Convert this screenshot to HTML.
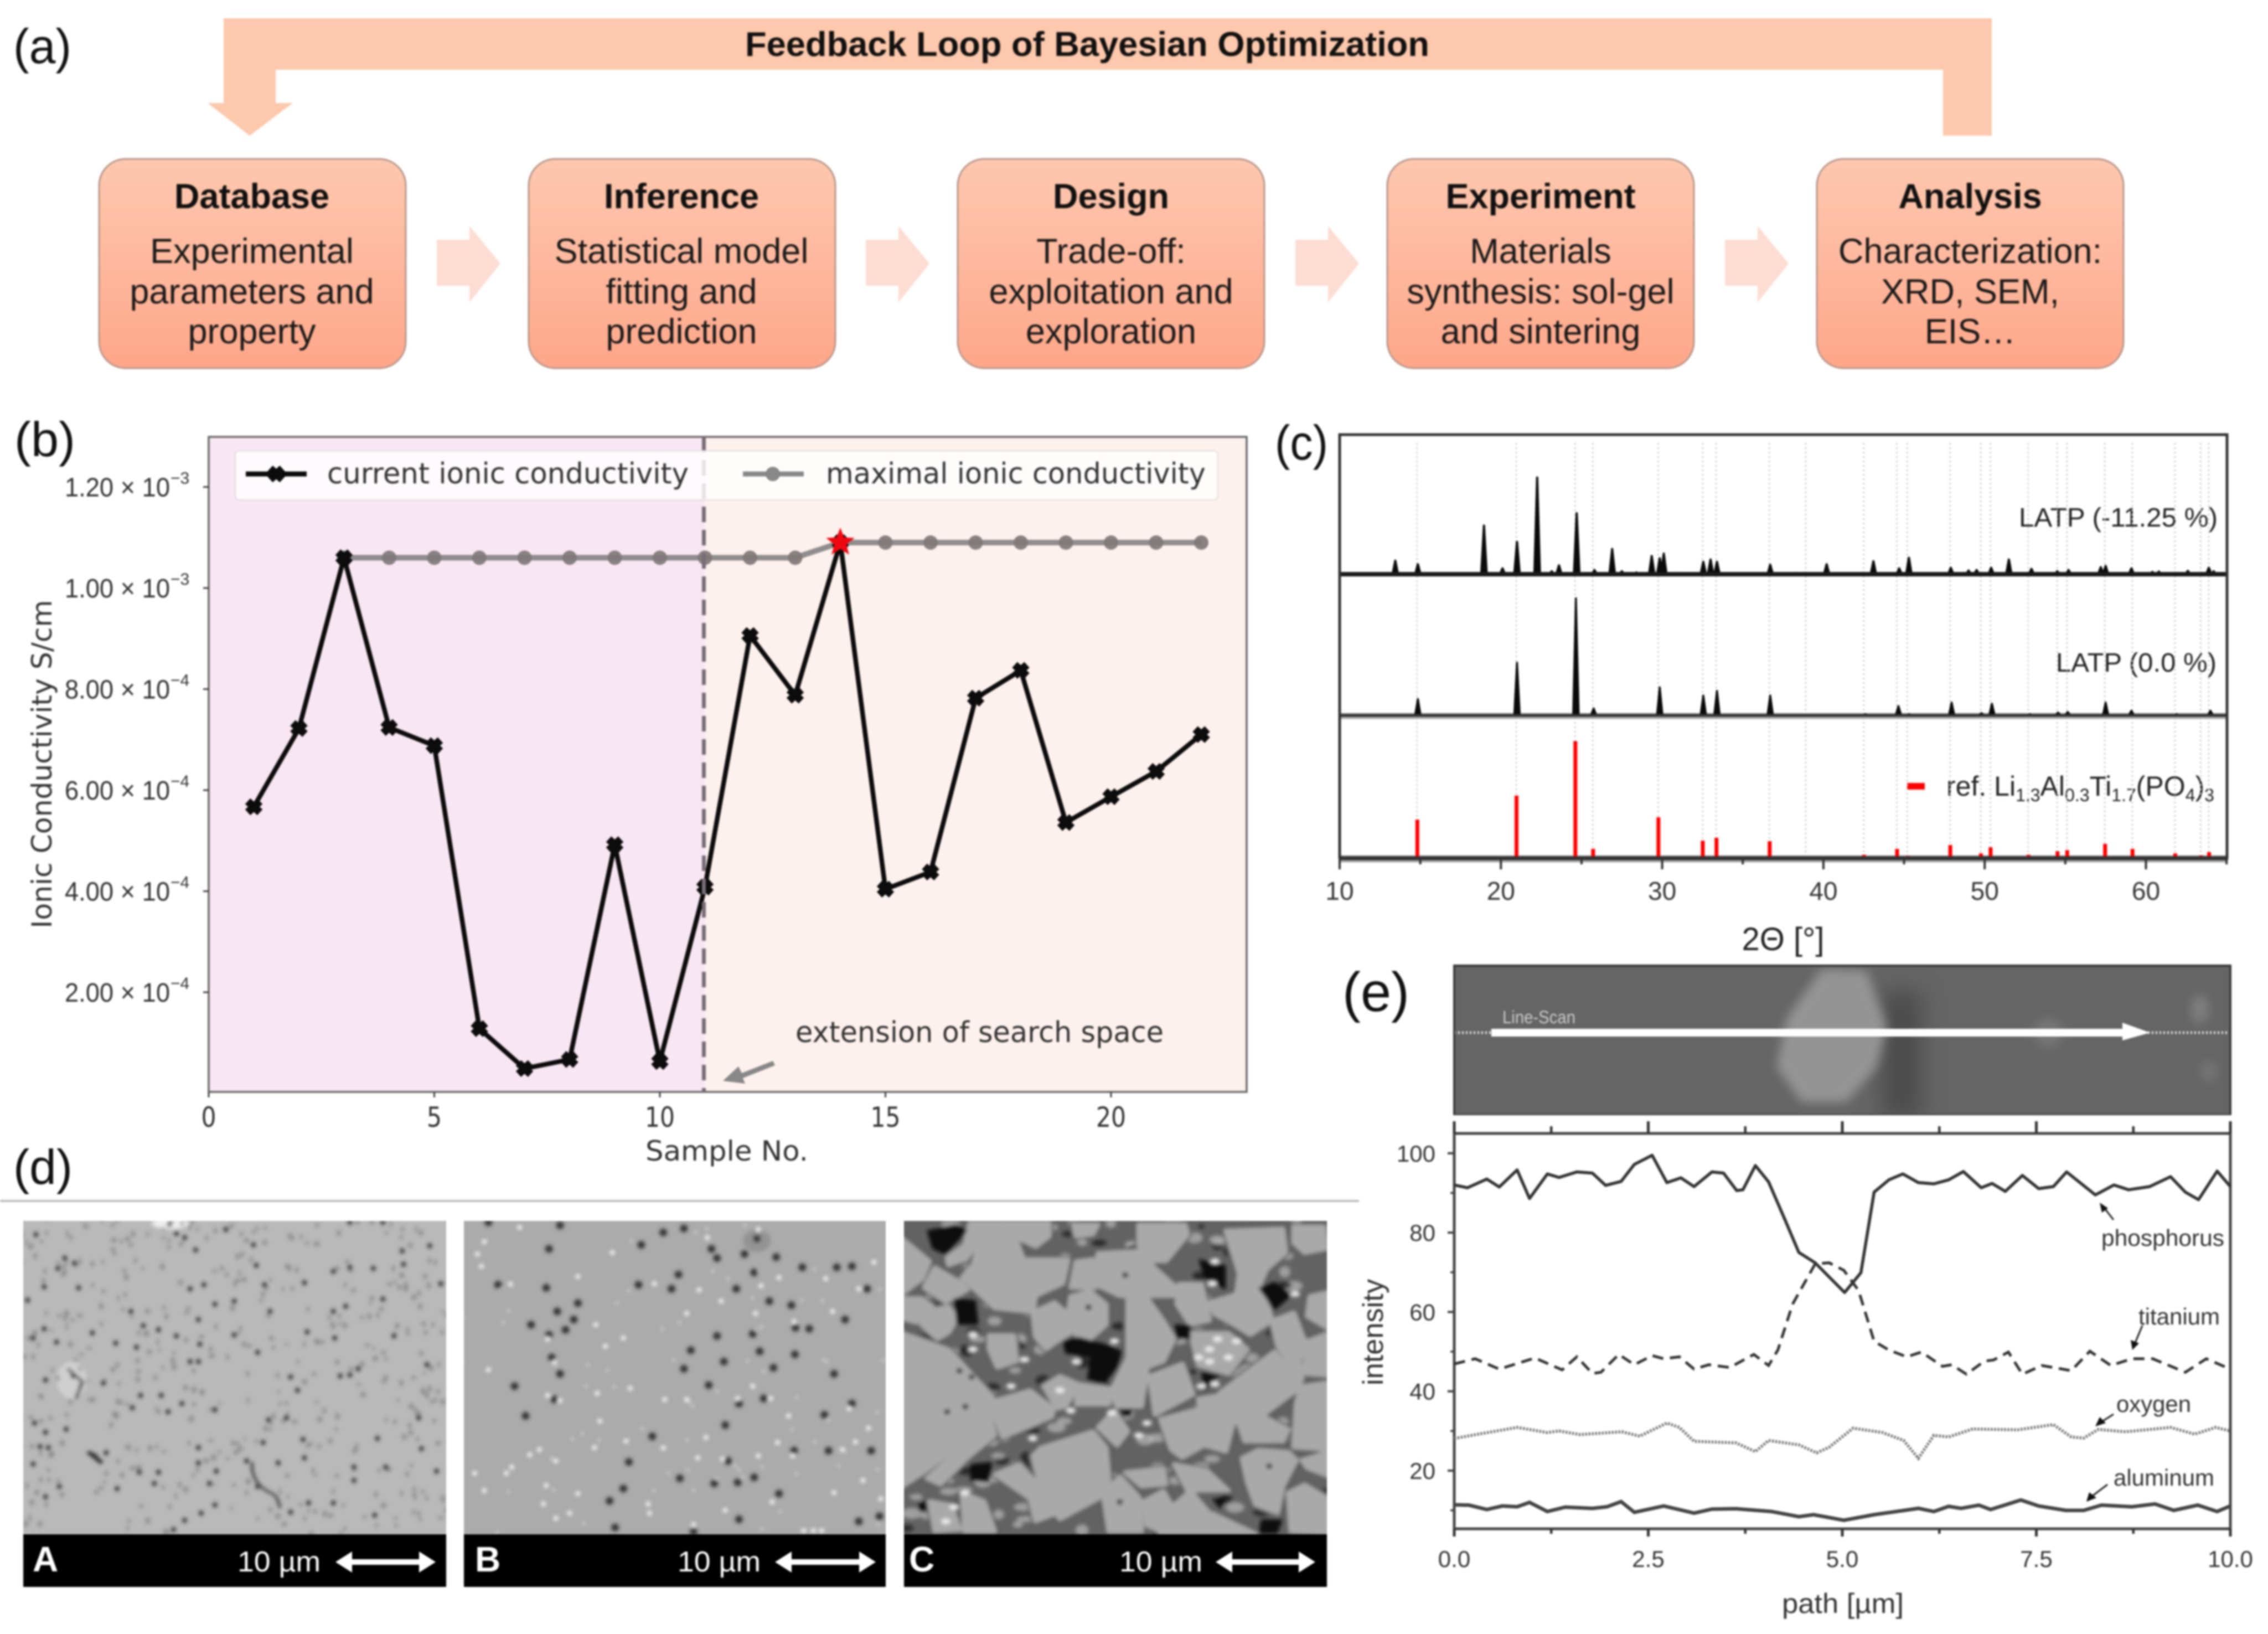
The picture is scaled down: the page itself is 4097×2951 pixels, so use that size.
<!DOCTYPE html>
<html lang="en">
<head>
<meta charset="utf-8">
<title>Bayesian optimization of LATP solid electrolytes</title>
<style>
html,body{margin:0;padding:0;background:#fff;width:4097px;height:2951px;overflow:hidden}
svg{display:block;filter:blur(1.5px)}
text{font-family:"Liberation Sans",sans-serif}
.dj{font-family:"DejaVu Sans","Liberation Sans",sans-serif}
.lbl{font-size:88px;fill:#111}
.ttl{font-size:63px;font-weight:bold;text-anchor:middle;fill:#111}
.bd{font-size:63px;text-anchor:middle;fill:#1a1a1a}
</style>
</head>
<body>
<svg id="fig" xmlns="http://www.w3.org/2000/svg" width="4097" height="2951" viewBox="0 0 4097 2951">
<defs>
<linearGradient id="boxG" x1="0" y1="0" x2="0" y2="1"><stop offset="0" stop-color="#fdc8ae"/><stop offset=".5" stop-color="#feb89d"/><stop offset="1" stop-color="#fea688"/></linearGradient>
<filter id="b3" x="-5%" y="-5%" width="110%" height="110%"><feGaussianBlur stdDeviation="3.2"/></filter>
<filter id="b6" x="-30%" y="-30%" width="160%" height="160%"><feGaussianBlur stdDeviation="9"/></filter>
<filter id="b14" x="-300%" y="-30%" width="700%" height="160%"><feGaussianBlur stdDeviation="20"/></filter>
<clipPath id="clipA"><rect x="42" y="2205" width="764" height="566"/></clipPath>
<clipPath id="clipB"><rect x="838" y="2205" width="762" height="566"/></clipPath>
<clipPath id="clipC"><rect x="1633" y="2205" width="764" height="566"/></clipPath>
<clipPath id="clipE"><rect x="2627" y="1744" width="1402" height="270"/></clipPath>
</defs>
<rect width="4097" height="2951" fill="#fff"/>

<g>
<text class="lbl" x="24" y="114" textLength="105" lengthAdjust="spacingAndGlyphs">(a)</text>
<path fill="#fdc8ab" d="M404,33H3598V245H3510V126H498V186H529L451,245L375,186H404Z"/>
<text x="1964" y="101" font-size="62" font-weight="bold" text-anchor="middle" fill="#111" textLength="1236" lengthAdjust="spacingAndGlyphs">Feedback Loop of Bayesian Optimization</text>

<g>
<rect x="179" y="287" width="554" height="378" rx="48" fill="url(#boxG)" stroke="#b8958a" stroke-width="3"/>
<text class="ttl" x="455" y="376">Database</text><text class="bd" x="455" y="475">Experimental</text><text class="bd" x="455" y="548">parameters and</text><text class="bd" x="455" y="620">property</text>
</g>
<g>
<rect x="955" y="287" width="554" height="378" rx="48" fill="url(#boxG)" stroke="#b8958a" stroke-width="3"/>
<text class="ttl" x="1231" y="376">Inference</text><text class="bd" x="1231" y="475">Statistical model</text><text class="bd" x="1231" y="548">fitting and</text><text class="bd" x="1231" y="620">prediction</text>
</g>
<g>
<rect x="1730" y="287" width="554" height="378" rx="48" fill="url(#boxG)" stroke="#b8958a" stroke-width="3"/>
<text class="ttl" x="2007" y="376">Design</text><text class="bd" x="2007" y="475">Trade-off:</text><text class="bd" x="2007" y="548">exploitation and</text><text class="bd" x="2007" y="620">exploration</text>
</g>
<g>
<rect x="2506" y="287" width="554" height="378" rx="48" fill="url(#boxG)" stroke="#b8958a" stroke-width="3"/>
<text class="ttl" x="2783" y="376">Experiment</text><text class="bd" x="2783" y="475">Materials</text><text class="bd" x="2783" y="548">synthesis: sol-gel</text><text class="bd" x="2783" y="620">and sintering</text>
</g>
<g>
<rect x="3282" y="287" width="554" height="378" rx="48" fill="url(#boxG)" stroke="#b8958a" stroke-width="3"/>
<text class="ttl" x="3559" y="376">Analysis</text><text class="bd" x="3559" y="475">Characterization:</text><text class="bd" x="3559" y="548">XRD, SEM,</text><text class="bd" x="3559" y="620">EIS…</text>
</g>
<path fill="#fddcd2" d="M789,433H848V408L904,476L848,546V516H789Z"/>
<path fill="#fddcd2" d="M1564,433H1623V408L1679,476L1623,546V516H1564Z"/>
<path fill="#fddcd2" d="M2340,433H2399V408L2455,476L2399,546V516H2340Z"/>
<path fill="#fddcd2" d="M3116,433H3175V408L3231,476L3175,546V516H3116Z"/>
</g>

<g id="panelB">
<text class="lbl" x="26" y="824" textLength="110" lengthAdjust="spacingAndGlyphs">(b)</text>
<rect x="377" y="789" width="896" height="1183" fill="#f8e6f3"/>
<rect x="1273" y="789" width="979" height="1183" fill="#fdf1ed"/>
<text class="dj" transform="translate(93,1380) rotate(-90)" font-size="50" text-anchor="middle" fill="#333" textLength="593" lengthAdjust="spacingAndGlyphs">Ionic Conductivity S/cm</text>
<text class="dj" x="1313" y="2096" font-size="50" text-anchor="middle" fill="#333" textLength="294" lengthAdjust="spacingAndGlyphs">Sample No.</text>
<text class="dj" x="1437" y="1882" font-size="52" fill="#333" textLength="665" lengthAdjust="spacingAndGlyphs">extension of search space</text>
<path d="M1396,1916L1340,1938L1334,1926L1306,1952L1346,1957L1342,1947L1400,1924Z" fill="#888"/>
</g>

<g id="panelC">
<text class="lbl" x="2303" y="830" textLength="96" lengthAdjust="spacingAndGlyphs">(c)</text>
<text x="3221" y="1716" font-size="58" text-anchor="middle" fill="#222">2Θ [°]</text>
<text x="3647" y="951" font-size="48" fill="#222" textLength="359" lengthAdjust="spacingAndGlyphs">LATP (-11.25 %)</text>
<text x="3714" y="1213" font-size="48" fill="#222" textLength="290" lengthAdjust="spacingAndGlyphs">LATP (0.0 %)</text>
<text x="3516" y="1437" font-size="50" fill="#222">ref. Li<tspan font-size="32" dy="10">1.3</tspan><tspan dy="-10">Al</tspan><tspan font-size="32" dy="10">0.3</tspan><tspan dy="-10">Ti</tspan><tspan font-size="32" dy="10">1.7</tspan><tspan dy="-10">(PO</tspan><tspan font-size="32" dy="10">4</tspan><tspan dy="-10">)</tspan><tspan font-size="32" dy="10">3</tspan></text>
<rect x="3445" y="1414" width="32" height="12" fill="#f00"/>
</g>

<g>
<text class="lbl" x="24" y="2138" textLength="107" lengthAdjust="spacingAndGlyphs">(d)</text>
<line x1="0" y1="2169" x2="2455" y2="2169" stroke="#bdbdbd" stroke-width="4"/>
<rect x="42" y="2205" width="764" height="566" fill="#b9b9b9"/>
<rect x="838" y="2205" width="762" height="566" fill="#ababab"/>
<rect x="1633" y="2205" width="764" height="566" fill="#636363"/>
<g clip-path="url(#clipA)"><g id="semA" filter="url(#b3)"></g></g>
<g clip-path="url(#clipB)"><g id="semB" filter="url(#b3)"></g></g>
<g clip-path="url(#clipC)"><g id="semC" filter="url(#b3)"></g></g>
<g>
<rect x="42" y="2771" width="764" height="95" fill="#000"/>
<text x="59" y="2838" font-size="64" font-weight="bold" fill="#fff">A</text>
<text x="429" y="2838" font-size="52" fill="#fff" textLength="150" lengthAdjust="spacingAndGlyphs">10 µm</text>
<path fill="#fff" d="M606,2821L636,2802V2816H757V2802L787,2821L757,2840V2826H636V2840Z"/>
</g>
<g>
<rect x="838" y="2771" width="762" height="95" fill="#000"/>
<text x="858" y="2838" font-size="64" font-weight="bold" fill="#fff">B</text>
<text x="1224" y="2838" font-size="52" fill="#fff" textLength="150" lengthAdjust="spacingAndGlyphs">10 µm</text>
<path fill="#fff" d="M1400,2821L1430,2802V2816H1552V2802L1582,2821L1552,2840V2826H1430V2840Z"/>
</g>
<g>
<rect x="1633" y="2771" width="764" height="95" fill="#000"/>
<text x="1642" y="2838" font-size="64" font-weight="bold" fill="#fff">C</text>
<text x="2022" y="2838" font-size="52" fill="#fff" textLength="150" lengthAdjust="spacingAndGlyphs">10 µm</text>
<path fill="#fff" d="M2196,2821L2226,2802V2816H2346V2802L2376,2821L2346,2840V2826H2226V2840Z"/>
</g>
</g>

<g id="panelE">
<text x="2425" y="1826" font-size="100" fill="#111" textLength="121" lengthAdjust="spacingAndGlyphs">(e)</text>
<g clip-path="url(#clipE)">
<rect x="2627" y="1744" width="1402" height="270" fill="#656565"/>
<rect x="3400" y="1790" width="70" height="230" fill="#4b4b4b" filter="url(#b14)"/>
<polygon points="3290,1750 3372,1753 3408,1853 3390,1927 3336,1990 3254,1990 3209,1927 3227,1840" fill="#949494" filter="url(#b6)"/>
<ellipse cx="3974" cy="1822" rx="16" ry="26" fill="#7f7f7f" filter="url(#b6)"/>
<ellipse cx="3990" cy="1935" rx="15" ry="18" fill="#767676" filter="url(#b6)"/>
<ellipse cx="3700" cy="1865" rx="26" ry="26" fill="#777" filter="url(#b6)"/>
<line x1="2627" y1="1865" x2="4029" y2="1865" stroke="#ddd" stroke-width="5" stroke-dasharray="3 4"/>
</g>
<rect x="2627" y="1744" width="1402" height="270" fill="none" stroke="#3a3a3a" stroke-width="4"/>
<rect x="2625" y="2014" width="1406" height="31" fill="#fff"/>
<path fill="#fff" d="M2694,1858H3834V1847L3884,1865L3834,1879V1872H2694Z"/>
<text x="2714" y="1848" font-size="32" fill="#c8c8c8" textLength="132" lengthAdjust="spacingAndGlyphs">Line-Scan</text>
<text transform="translate(2498,2406) rotate(-90)" font-size="52" text-anchor="middle" fill="#333" textLength="192" lengthAdjust="spacingAndGlyphs">intensity</text>
<text x="3329" y="2913" font-size="50" text-anchor="middle" fill="#333" textLength="220" lengthAdjust="spacingAndGlyphs">path [µm]</text>
<text x="3796" y="2250" font-size="42" fill="#333" textLength="222" lengthAdjust="spacingAndGlyphs">phosphorus</text>
<text x="3863" y="2392" font-size="42" fill="#333" textLength="147" lengthAdjust="spacingAndGlyphs">titanium</text>
<text x="3823" y="2550" font-size="42" fill="#333" textLength="135" lengthAdjust="spacingAndGlyphs">oxygen</text>
<text x="3818" y="2683" font-size="42" fill="#333" textLength="182" lengthAdjust="spacingAndGlyphs">aluminum</text>
<path d="M3818,2203L3800,2180" stroke="#222" stroke-width="3" fill="none"/><path d="M3793,2172L3808,2182L3797,2190Z" fill="#111"/>
<path d="M3870,2394L3857,2425" stroke="#222" stroke-width="3" fill="none"/><path d="M3852,2438L3849,2420L3864,2426Z" fill="#111"/>
<path d="M3818,2554L3796,2568" stroke="#222" stroke-width="3" fill="none"/><path d="M3785,2576L3793,2559L3804,2570Z" fill="#111"/>
<path d="M3807,2681L3778,2703" stroke="#222" stroke-width="3" fill="none"/><path d="M3769,2712L3774,2695L3787,2705Z" fill="#111"/>
</g>
</svg>

<script>
/* ---------- panel (b) data ---------- */
const bSamples = [1,2,3,4,5,6,7,8,9,10,11,12,13,14,15,16,17,18,19,20,21,22];
const bCurrent = [5.67e-4,7.22e-4,10.6e-4,7.24e-4,6.88e-4,1.28e-4,0.49e-4,0.67e-4,4.92e-4,0.63e-4,4.08e-4,9.06e-4,7.88e-4,10.9e-4,4.04e-4,4.38e-4,7.82e-4,8.37e-4,5.36e-4,5.87e-4,6.37e-4,7.10e-4];
const bMaxSamples = [3,4,5,6,7,8,9,10,11,12,13,14,15,16,17,18,19,20,21,22];
const bMaximal = [10.6e-4,10.6e-4,10.6e-4,10.6e-4,10.6e-4,10.6e-4,10.6e-4,10.6e-4,10.6e-4,10.6e-4,10.6e-4,10.9e-4,10.9e-4,10.9e-4,10.9e-4,10.9e-4,10.9e-4,10.9e-4,10.9e-4,10.9e-4];
const bBestSample = [14];
const bBestValue = [10.9e-4];
const bXTicks = [0,5,10,15,20];
const bYTicks = [2e-4,4e-4,6e-4,8e-4,10e-4,12e-4];
const bYMantissas = ['2.00','4.00','6.00','8.00','1.00','1.20'];
const bYExponents = ['−4','−4','−4','−4','−3','−3'];

/* ---------- panel (c) data ---------- */
const cXTicks = [10,20,30,40,50,60];
const cXMinorTicks = [15,25,35,45,55,65];
const cRefAngles = [14.8,20.95,24.6,25.7,29.75,32.5,33.35,36.65,38.9,42.5,44.55,45.2,47.85,49.75,50.35,52.7,54.5,55.1,57.45,59.15,61.8,63.4,63.9];
const cRefIntensity = [33,53.5,100,8,35,15,17.5,14.6,1.4,3,8,2,11.3,4.2,9.4,3,6,7,12.3,8,4.2,2.4,5.2];
const cMidAngles = [14.85,21,24.65,25.75,29.85,32.55,33.4,36.7,42.6,44.65,45.3,47.95,49.8,50.45,52.8,54.55,55.15,57.5,59.1,61.9,64];
const cMidIntensity = [14,45,100,6,24,17,21,17,1,8,1,11,2,10,1,2.4,3,11,4,1,4];
const cTopAngles = [13.45,14.85,16.9,18.95,20.1,21,22.25,23.15,23.6,24.7,25.8,26.9,27.5,28.4,29.35,29.85,30.1,31,32.55,33,33.4,36.7,38.3,40.2,43.1,44.7,45.3,47.9,49,49.5,50.4,51.5,52.9,54.5,55.2,57.2,57.5,59.1,60.4,60.8,62.6,63.9,64.2];
const cTopIntensity = [12,9,1,42,5.5,28,83,3,8,52.5,4,22,3,2,16,14,18,1.5,11,13,11,8.5,1.5,9,11.5,5.5,14.5,6,3.6,4,6,13,5,3,4,6.5,7.5,5.5,2.4,2.7,3.3,6,3];

/* ---------- panel (e) data ---------- */
const eXTicks = [0,2.5,5,7.5,10];
const eXLabels = ['0.0','2.5','5.0','7.5','10.0'];
const eXMinorTicks = [1.25,3.75,6.25,8.75];
const eYTicks = [20,40,60,80,100];
const eYMinorTicks = [10,30,50,70,90];
const ePhosX = [0,.17,.42,.58,.81,.97,1.2,1.35,1.58,1.78,1.95,2.15,2.32,2.55,2.74,2.92,3.09,3.32,3.47,3.64,3.72,3.88,4.05,4.26,4.44,4.65,5.03,5.24,5.41,5.6,5.78,5.98,6.18,6.37,6.56,6.79,6.93,7.1,7.32,7.53,7.72,7.89,8.26,8.5,8.69,8.96,9.23,9.42,9.59,9.83,10];
const ePhos = [92,91.3,93.5,91.5,95.8,88.6,94.8,93.9,95.3,95,91.9,92.9,97.2,99.5,92.6,93.8,91.6,95.3,95,90.6,90.8,96.9,92.8,83.3,75,72.4,64.9,69.9,90.2,93.3,94.8,92.6,92.3,93.3,95.4,91.3,92.4,90.4,94.4,91.1,91.6,95.3,89.5,92,90.8,91.6,94.1,90.2,88.3,95.5,91.6];
const eTiX = [0,.27,.58,1.04,1.39,1.58,1.78,1.89,2.12,2.32,2.55,2.7,2.9,3.09,3.28,3.55,3.86,4.05,4.17,4.36,4.65,4.83,5.02,5.21,5.41,5.6,5.83,6.02,6.29,6.41,6.6,6.83,6.95,7.14,7.32,7.57,7.95,8.19,8.46,8.73,9,9.42,9.69,10];
const eTi = [46.9,48.2,45.6,48.4,45.4,48.7,44.5,44.8,49.3,46.7,49,48.2,48.7,45.6,46.7,46,49.3,46.5,50.4,62,72.1,72.4,70.5,65.4,52.6,50.4,48.7,49.9,46.3,46.7,44.3,47.6,47.9,49.9,44.3,46.5,45.2,50.1,46.5,48.2,48.2,44.8,48.2,45.6];
const eOxX = [0,.31,.81,1.2,1.35,1.62,2.16,2.39,2.74,2.9,3.09,3.63,3.88,4.05,4.44,4.67,4.83,5.14,5.52,5.79,5.98,6.18,6.37,6.68,7.26,7.72,7.95,8.11,8.3,8.65,9.23,9.54,9.81,10];
const eOx = [28.1,29.2,30.9,29.6,30,29.1,29.8,28.7,32,30.9,27.4,27,24.8,27.6,26.5,24.5,25.9,30.7,29.6,27.6,23.1,28.9,28.5,30.5,30.3,31.6,28.5,28.2,30.4,29.8,30.9,29.2,30.9,30];
const eAlX = [0,.19,.42,.62,.81,.97,1.2,1.43,1.78,1.97,2.15,2.32,2.7,3.09,3.32,3.63,4.09,4.44,4.63,5.02,5.41,5.98,6.18,6.37,6.53,6.76,6.91,7.3,7.53,7.88,8.11,8.34,8.73,9.03,9.27,9.58,9.83,10];
const eAl = [11.4,11.3,10.2,11.1,10.9,12,9.7,10.8,10.5,10.9,12.2,9.5,11.1,9.3,10.3,10.4,9.7,8.4,8.9,7.5,8.9,10.5,9.7,11,10.5,11.3,10.2,12.6,11.1,10,10,11.3,10.9,11.6,10,11.3,9.7,11.1];

const NS = 'http://www.w3.org/2000/svg';
function mk(tag, attrs, parent, txt) {
  const el = document.createElementNS(NS, tag);
  for (const k in attrs) el.setAttribute(k, attrs[k]);
  if (txt !== undefined) el.textContent = txt;
  parent.appendChild(el);
  return el;
}
const polyPts = (xs, ys, fx, fy) => xs.map((v, i) => fx(v).toFixed(1) + ',' + fy(ys[i]).toFixed(1)).join(' ');

/* ---------- panel (b) drawing ---------- */
(function () {
  const g = document.getElementById('panelB');
  const bX = v => 377 + v * 81.5;
  const bY = v => 1792 - (v - 2e-4) / 2e-4 * 182.5;
  const frame = mk('rect', {x:377,y:789,width:1875,height:1183,fill:'none',stroke:'#666','stroke-width':3.5}, g);
  
  
  bXTicks.forEach(t => {
    const tk = mk('line', {x1:bX(t),x2:bX(t),y1:1972,y2:1982,stroke:'#444','stroke-width':3}, g);
    
    
    const lb = mk('text', {x:bX(t),y:2035,'font-size':50,'text-anchor':'middle',fill:'#333',class:'dj',textLength:String(t).length*27,lengthAdjust:'spacingAndGlyphs'}, g, String(t));
    
    
  });
  bYTicks.forEach((t, i) => {
    const tk = mk('line', {x1:367,x2:377,y1:bY(t),y2:bY(t),stroke:'#444','stroke-width':3}, g);
    
    
    const lb = mk('text', {x:117,y:bY(t)+17,'font-size':48,fill:'#333',textLength:190,lengthAdjust:'spacingAndGlyphs'}, g, bYMantissas[i] + ' × 10');
    
    
    const ex = mk('text', {x:308,y:bY(t)-6,'font-size':30,fill:'#333'}, g, bYExponents[i]);
    
    
  });
  const maxLine = mk('polyline', {points:polyPts(bMaxSamples,bMaximal,bX,bY),fill:'none',stroke:'#7b7b7b','stroke-width':10,opacity:.85}, g);
  
  
  bMaxSamples.forEach((s, i) => {
    const c = mk('circle', {cx:bX(s),cy:bY(bMaximal[i]),r:13,fill:'#7f7878',opacity:.92}, g);
    
    
  });
  const curLine = mk('polyline', {points:polyPts(bSamples,bCurrent,bX,bY),fill:'none',stroke:'#0c0c0c','stroke-width':8.5,'stroke-linejoin':'round'}, g);
  
  
  const xMark = (cx, cy) => `M${cx-11},${cy-10}L${cx+11},${cy+10}M${cx-11},${cy+10}L${cx+11},${cy-10}`;
  bSamples.forEach((s, i) => {
    const m = mk('path', {d:xMark(bX(s),bY(bCurrent[i])),stroke:'#0c0c0c','stroke-width':14,fill:'none'}, g);
    
    
  });
  bBestSample.forEach((s, i) => {
    const cx = bX(s), cy = bY(bBestValue[i]);
    let pts = [];
    for (let k = 0; k < 10; k++) {
      const r = k % 2 ? 11.5 : 27, a = -Math.PI / 2 + k * Math.PI / 5;
      pts.push((cx + r * Math.cos(a)).toFixed(1) + ',' + (cy + r * Math.sin(a)).toFixed(1));
    }
    const st = mk('polygon', {points:pts.join(' '),fill:'#f00810'}, g);
    
    
  });
  const dash = mk('line', {x1:bX(11)-2,x2:bX(11)-2,y1:789,y2:1972,stroke:'#776c78','stroke-width':7,'stroke-dasharray':'28 14'}, g);
  
  
  const lg = mk('g', {}, g);
  
  
  mk('rect', {x:425,y:814,width:1775,height:89,rx:8,fill:'#fff','fill-opacity':.8,stroke:'#e0dcdc','stroke-width':2}, lg);
  mk('line', {x1:444,x2:554,y1:856,y2:856,stroke:'#0c0c0c','stroke-width':9}, lg);
  mk('path', {d:xMark(499,856),stroke:'#0c0c0c','stroke-width':14,fill:'none'}, lg);
  mk('text', {x:591,y:873,'font-size':52,fill:'#333',class:'dj',textLength:653,lengthAdjust:'spacingAndGlyphs'}, lg, 'current ionic conductivity');
  mk('line', {x1:1342,x2:1452,y1:856,y2:856,stroke:'#888','stroke-width':9}, lg);
  mk('circle', {cx:1396,cy:856,r:13,fill:'#888'}, lg);
  mk('text', {x:1492,y:873,'font-size':52,fill:'#333',class:'dj',textLength:686,lengthAdjust:'spacingAndGlyphs'}, lg, 'maximal ionic conductivity');
})();

/* ---------- panel (c) drawing ---------- */
(function () {
  const g = document.getElementById('panelC');
  const cX = v => 2420 + (v - 10) * 29.13;
  const intY = (base, v) => base - v * 2.115;
  cRefAngles.forEach(a => {
    const gd = mk('line', {x1:cX(a),x2:cX(a),y1:800,y2:1550,stroke:'#c4c4c4','stroke-width':2.5,'stroke-dasharray':'3 5'}, g);
    
    
  });
  const drawPeaks = (angles, vals, base, name, sw) => {
    let d = '';
    angles.forEach((a, i) => {
      const x = cX(a), w = 5;
      d += `M${(x-w).toFixed(1)},${base}L${x.toFixed(1)},${intY(base,vals[i]).toFixed(1)}L${(x+w).toFixed(1)},${base}Z`;
    });
    const p = mk('path', {d:d,fill:'#0a0a0a',stroke:'#0a0a0a','stroke-width':sw,'stroke-linejoin':'round'}, g);
    
    
  };
  drawPeaks(cTopAngles, cTopIntensity, 1038, 'pattern-latp-minus-11', 4);
  const b1 = mk('line', {x1:2420,x2:4023,y1:1037,y2:1037,stroke:'#1a1a1a','stroke-width':8}, g);
  
  
  const h2 = mk('line', {x1:2420,x2:4023,y1:1293,y2:1293,stroke:'#aaa','stroke-width':11}, g);
  
  
  drawPeaks(cMidAngles, cMidIntensity, 1292, 'pattern-latp-zero', 3.5);
  const b2 = mk('line', {x1:2420,x2:4023,y1:1292,y2:1292,stroke:'#333','stroke-width':5}, g);
  
  
  const h3 = mk('line', {x1:2420,x2:4023,y1:1551,y2:1551,stroke:'#aaa','stroke-width':13}, g);
  
  
  cRefAngles.forEach((a, i) => {
    const s = mk('rect', {x:cX(a)-3,y:intY(1550,cRefIntensity[i]),width:7,height:cRefIntensity[i]*2.115,fill:'#f00'}, g);
    
    
  });
  const fr = mk('path', {d:'M2420,1550V785H4023V1550',fill:'none',stroke:'#333','stroke-width':5}, g);
  
  
  const bt = mk('line', {x1:2418,x2:4025,y1:1550,y2:1550,stroke:'#333','stroke-width':7}, g);
  
  
  cXTicks.forEach(t => {
    const tk = mk('line', {x1:cX(t),x2:cX(t),y1:1550,y2:1570,stroke:'#333','stroke-width':4}, g);
    
    
    const lb = mk('text', {x:cX(t),y:1625,'font-size':46,'text-anchor':'middle',fill:'#333'}, g, String(t));
    
    
  });
  cXMinorTicks.forEach(t => {
    const tk = mk('line', {x1:cX(t),x2:cX(t),y1:1550,y2:1561,stroke:'#333','stroke-width':4}, g);
    
    
  });
})();

/* ---------- panel (e) drawing ---------- */
(function () {
  const g = document.getElementById('panelE');
  const eX = v => 2627 + v * 140.2;
  const eY = v => 2656 - (v - 20) * 7.165;
  const fr = mk('rect', {x:2627,y:2047,width:1402,height:714,fill:'none',stroke:'#444','stroke-width':5}, g);
  
  
  eXTicks.forEach((t, i) => {
    const tk = mk('path', {d:`M${eX(t)},2047V2025M${eX(t)},2761V2775`,stroke:'#333','stroke-width':5,fill:'none'}, g);
    
    
    const lb = mk('text', {x:eX(t),y:2830,'font-size':42,'text-anchor':'middle',fill:'#333'}, g, eXLabels[i]);
    
    
  });
  eXMinorTicks.forEach(t => {
    const tk = mk('path', {d:`M${eX(t)},2047V2034M${eX(t)},2761V2770`,stroke:'#333','stroke-width':4.5,fill:'none'}, g);
    
    
  });
  eYTicks.forEach(t => {
    const tk = mk('line', {x1:2615,x2:2627,y1:eY(t),y2:eY(t),stroke:'#444','stroke-width':4}, g);
    
    
    const lb = mk('text', {x:2593,y:eY(t)+15,'font-size':42,'text-anchor':'end',fill:'#333'}, g, String(t));
    
    
  });
  eYMinorTicks.forEach(t => {
    const tk = mk('line', {x1:2620,x2:2627,y1:eY(t),y2:eY(t),stroke:'#444','stroke-width':3.5}, g);
    
    
  });
  const al = mk('polyline', {points:polyPts(eAlX,eAl,eX,eY),fill:'none',stroke:'#444','stroke-width':6.5}, g);
  
  
  const ox = mk('polyline', {points:polyPts(eOxX,eOx,eX,eY),fill:'none',stroke:'#777','stroke-width':5.5,'stroke-dasharray':'3.5 2.5'}, g);
  
  
  const ti = mk('polyline', {points:polyPts(eTiX,eTi,eX,eY),fill:'none',stroke:'#333','stroke-width':5,'stroke-dasharray':'20 12'}, g);
  
  
  const ph = mk('polyline', {points:polyPts(ePhosX,ePhos,eX,eY),fill:'none',stroke:'#333','stroke-width':5.5,'stroke-linejoin':'round'}, g);
  
  
})();

/* ---------- SEM textures (images, not chart data) ---------- */
(function () {
  let seed = 12345;
  const rnd = () => (seed = (seed * 16807) % 2147483647) / 2147483647;

  const poresA = [[175,195],[210,220],[225,340],[100,335],[150,245],[70,80],[580,75],[610,95],[650,155],[860,130],[870,230],[900,325],[1045,315],[1150,260],[1210,240],[1295,245],[1400,160],[1405,225],[1500,135],[1540,320],[1330,395],[1195,430],[1150,455],[920,455],[720,420],[790,405],[660,495],[415,455],[460,525],[515,545],[580,575],[665,615],[275,560],[100,540],[60,585],[145,605],[360,610],[435,630],[1370,575],[1155,585],[1055,555],[790,570],[630,345],[680,325],[40,400],[630,700],[660,700],[875,655],[105,790],[205,770],[315,805],[995,775],[1210,765],[1175,770],[1020,840],[450,865],[525,865],[600,905],[550,945],[420,925],[720,935],[915,985],[980,975],[65,1000],[105,1045],[180,1030],[85,1115],[115,1120],[1040,1080],[1310,1075],[895,1095],[660,1120],[1470,1125],[1045,1170],[285,1160],[325,1145],[660,1195],[835,1185],[950,1195],[60,1200],[1225,1215],[1340,1215],[725,1235],[445,1240],[515,1240],[1225,1280],[700,1295],[500,1295],[155,1310],[365,1320],[875,1310],[105,1360],[720,1400],[1060,1390],[1150,1390],[1300,1450],[995,1435],[610,1475],[670,1440],[570,1520],[1460,975],[1525,1235],[1490,715],[1240,735],[555,30],[1210,20],[1330,20],[760,55]];
  const gA = mk('g', {transform:'translate(30,2200) scale(.4975,.37)'}, document.getElementById('semA'));
  mk('ellipse', {cx:560,cy:25,rx:70,ry:28,fill:'#eee'}, gA);
  mk('ellipse', {cx:200,cy:790,rx:55,ry:90,fill:'#cfcfcf'}, gA);
  for (let i = 0; i < 420; i++) mk('ellipse', {cx:(rnd()*1568).toFixed(0),cy:(rnd()*1540).toFixed(0),rx:5+rnd()*6,ry:8+rnd()*9,fill:'#7a7a7a',opacity:.6}, gA);
  poresA.forEach(p => mk('ellipse', {cx:p[0],cy:p[1],rx:9,ry:13,fill:'#3a3a3a'}, gA));
  mk('path', {d:'M855,1190C850,1260 880,1320 930,1345C955,1370 950,1400 958,1415',fill:'none',stroke:'#555','stroke-width':12}, gA);
  mk('path', {d:'M185,735L240,800L215,880',fill:'none',stroke:'#555','stroke-width':12}, gA);
  mk('path', {d:'M260,1140L310,1195',fill:'none',stroke:'#333','stroke-width':18}, gA);

  const poresB = [[105,20],[365,35],[740,70],[815,50],[325,150],[660,130],[915,150],[935,195],[1035,175],[1150,190],[1070,265],[1080,100],[140,325],[650,325],[770,345],[795,275],[1005,345],[1370,240],[1425,235],[1480,345],[1125,405],[1205,425],[430,415],[355,455],[260,520],[385,545],[415,495],[325,570],[935,575],[1065,565],[1220,535],[1270,540],[1400,495],[840,645],[1090,650],[1218,665],[960,700],[1140,730],[815,735],[335,680],[365,760],[1360,760],[200,820],[905,815],[1105,880],[1015,905],[345,885],[240,965],[1325,960],[1425,905],[965,1010],[700,1065],[1215,1135],[1340,1135],[1495,1135],[615,1190],[975,1185],[925,1295],[1010,1290],[1070,1265],[595,1320],[1160,1345],[545,1380],[1015,1470],[1450,1480],[1525,1455],[565,1510],[850,1530],[800,1270],[315,340],[1245,240]];
  const whiteB = [[218,45],[90,115],[65,175],[80,235],[185,322],[555,168],[430,285],[708,320],[900,95],[1085,55],[1160,290],[1330,295],[1505,215],[1450,345],[1095,330],[950,405],[870,350],[825,465],[1075,465],[1355,455],[495,520],[1215,505],[595,585],[530,625],[320,590],[345,705],[105,740],[620,830],[320,865],[365,890],[500,855],[825,885],[745,885],[1065,820],[1130,880],[1010,880],[1415,930],[1195,965],[510,990],[1485,1025],[605,1088],[895,1070],[740,1122],[490,1120],[1155,1095],[1438,1092],[1390,1130],[255,1155],[290,1130],[350,1185],[190,1215],[170,1245],[55,1245],[955,1175],[1085,1160],[1210,1160],[865,1170],[90,1330],[315,1305],[430,1345],[1360,1340],[1135,1385],[685,1395],[690,1440],[400,1440],[350,1465],[1465,1280],[850,1495],[1250,1525],[1285,1525],[1315,1525],[1530,1370],[965,1425],[305,1395]];
  const gB = mk('g', {transform:'translate(830,2200) scale(.4975,.37)'}, document.getElementById('semB'));
  mk('ellipse', {cx:1080,cy:110,rx:50,ry:55,fill:'#939393'}, gB);
  for (let i = 0; i < 70; i++) mk('ellipse', {cx:(rnd()*1568).toFixed(0),cy:(rnd()*1540).toFixed(0),rx:6,ry:9,fill:'#d8d8d8',opacity:.8}, gB);
  poresB.forEach(p => mk('ellipse', {cx:p[0],cy:p[1],rx:14,ry:19,fill:'#353535'}, gB));
  whiteB.forEach(p => mk('ellipse', {cx:p[0],cy:p[1],rx:9,ry:12,fill:'#f6f6f6'}, gB));

  const grains = ['0,100 100,210 70,300 0,370','250,20 360,20 365,70 260,150 235,200 170,230 165,190 230,130','370,20 540,20 540,90 490,140 430,100 370,70','250,240 430,220 445,200 610,200 590,320 490,380 480,460 340,440 220,290','280,140 370,85 420,110 445,200 260,230','120,240 210,310 240,350 160,410 80,340','0,390 70,390 110,430 50,510 0,490','100,450 170,430 200,490 170,560 130,590 70,520','480,460 560,410 610,470 620,560 560,610 530,640 490,580','620,380 690,355 750,420 750,520 690,590 640,570 610,480','720,170 860,160 1010,340 1000,380 800,380 720,330','870,30 1040,30 1050,80 970,210 900,210 870,130','830,390 900,390 960,500 1000,590 960,700 900,730 880,920 790,920 770,840 830,680','1020,320 1100,320 1130,500 1060,520 1010,420','1190,60 1400,50 1410,170 1340,250 1310,340 1350,450 1360,500 1280,570 1220,520 1150,470 1130,410 1230,370 1240,270','1440,40 1550,40 1560,150 1480,170 1440,120','1360,500 1440,460 1480,600 1460,700 1470,790 1380,620','1500,380 1568,360 1568,540 1490,480','1490,600 1568,560 1568,770 1480,760','0,560 170,640 330,870 340,980 80,1240 0,1310','330,1010 340,1060 240,1170 140,1300 90,1270 230,1110','340,890 470,840 555,930 550,970 370,1070 350,1000','520,820 580,770 650,810 600,920 570,930','650,810 760,830 760,910 640,910','320,570 410,570 420,700 350,730 320,640','910,770 1030,710 1070,860 930,960','950,980 1090,930 1110,1110 1030,1170 990,1130','1170,850 1370,650 1470,820 1340,950 1230,950','1090,880 1180,860 1225,960 1190,1140 1110,1110','1470,820 1568,800 1568,1130 1440,1120 1450,900','1230,970 1320,960 1420,1030 1400,1090 1260,1090','510,1120 700,1040 750,1120 760,1280 720,1370 580,1470 510,1320 480,1160','1250,1170 1310,1130 1420,1140 1450,1180 1400,1310 1380,1440 1300,1400 1270,1290','740,1350 800,1260 870,1360 880,1530 760,1530','890,1380 960,1330 990,1400 950,1530 900,1500','1000,1400 1060,1330 1130,1440 1140,1440 1300,1540 950,1540','1420,1340 1480,1300 1568,1370 1568,1540 1430,1530','1470,1180 1568,1140 1568,1260 1490,1220','340,1250 430,1200 520,1330 570,1440 490,1480 470,1370','720,1020 780,940 830,1040 790,1110','820,1240 960,1220 970,1300 880,1310','1000,1200 1120,1230 1200,1330 1050,1330','630,30 720,30 700,80 640,90','640,210 700,200 710,340 620,340','100,1380 180,1400 210,1520 120,1530','220,1340 300,1380 340,1530 230,1530','1060,560 1200,560 1270,640 1200,760 1090,720'];
  const blacks = ['190,390 270,400 280,520 200,520','590,600 650,580 760,620 810,650 790,730 750,800 680,790 690,680 600,660','1310,340 1370,310 1430,380 1370,450','90,60 200,30 240,60 160,180 110,150','1090,200 1190,230 1190,350 1110,290','1000,520 1060,520 1060,590 1010,590','1140,1370 1190,1360 1170,1420','800,930 850,930 840,970 810,965','1320,1470 1400,1470 1380,1540 1310,1540','1100,750 1170,770 1110,850','250,1200 330,1190 320,1290 250,1280','60,1390 90,1380 90,1430 60,1430'];
  const brights = [[260,570],[260,640],[640,700],[580,840],[480,1075],[900,1000],[1130,700],[1090,680],[1160,590],[1230,600],[1445,370],[1150,210],[230,1340],[190,1410],[160,1480],[1140,320],[780,600],[450,690],[620,940],[770,950],[1130,640],[1200,680],[1100,820],[1150,810],[870,1060],[400,820]];
  const gC = mk('g', {transform:'translate(1630,2200) scale(.491,.37)'}, document.getElementById('semC'));
  for (let i = 0; i < 240; i++) mk('ellipse', {cx:(rnd()*1568).toFixed(0),cy:(rnd()*1540).toFixed(0),rx:18+rnd()*18,ry:14+rnd()*14,fill:i%3===0?'#151515':'#b8b8b8',opacity:.7}, gC);
  grains.forEach(pts => mk('polygon', {points:pts,fill:'#4a4a4a',stroke:'#4a4a4a','stroke-width':34,'stroke-linejoin':'round'}, gC));
  grains.forEach(pts => mk('polygon', {points:pts,fill:'#a9a9a9',stroke:'#a9a9a9','stroke-width':20,'stroke-linejoin':'round'}, gC));
  blacks.forEach(pts => mk('polygon', {points:pts,fill:'#0a0a0a'}, gC));
  brights.forEach(p => mk('ellipse', {cx:p[0],cy:p[1],rx:17,ry:14,fill:'#eaeaea'}, gC));
  [[820,278],[1350,1210],[800,1385],[210,745],[255,775],[232,920],[165,945],[1100,40],[685,435]].forEach(p => mk('ellipse', {cx:p[0],cy:p[1],rx:11,ry:13,fill:'#333'}, gC));
})();
</script>
</body>
</html>
